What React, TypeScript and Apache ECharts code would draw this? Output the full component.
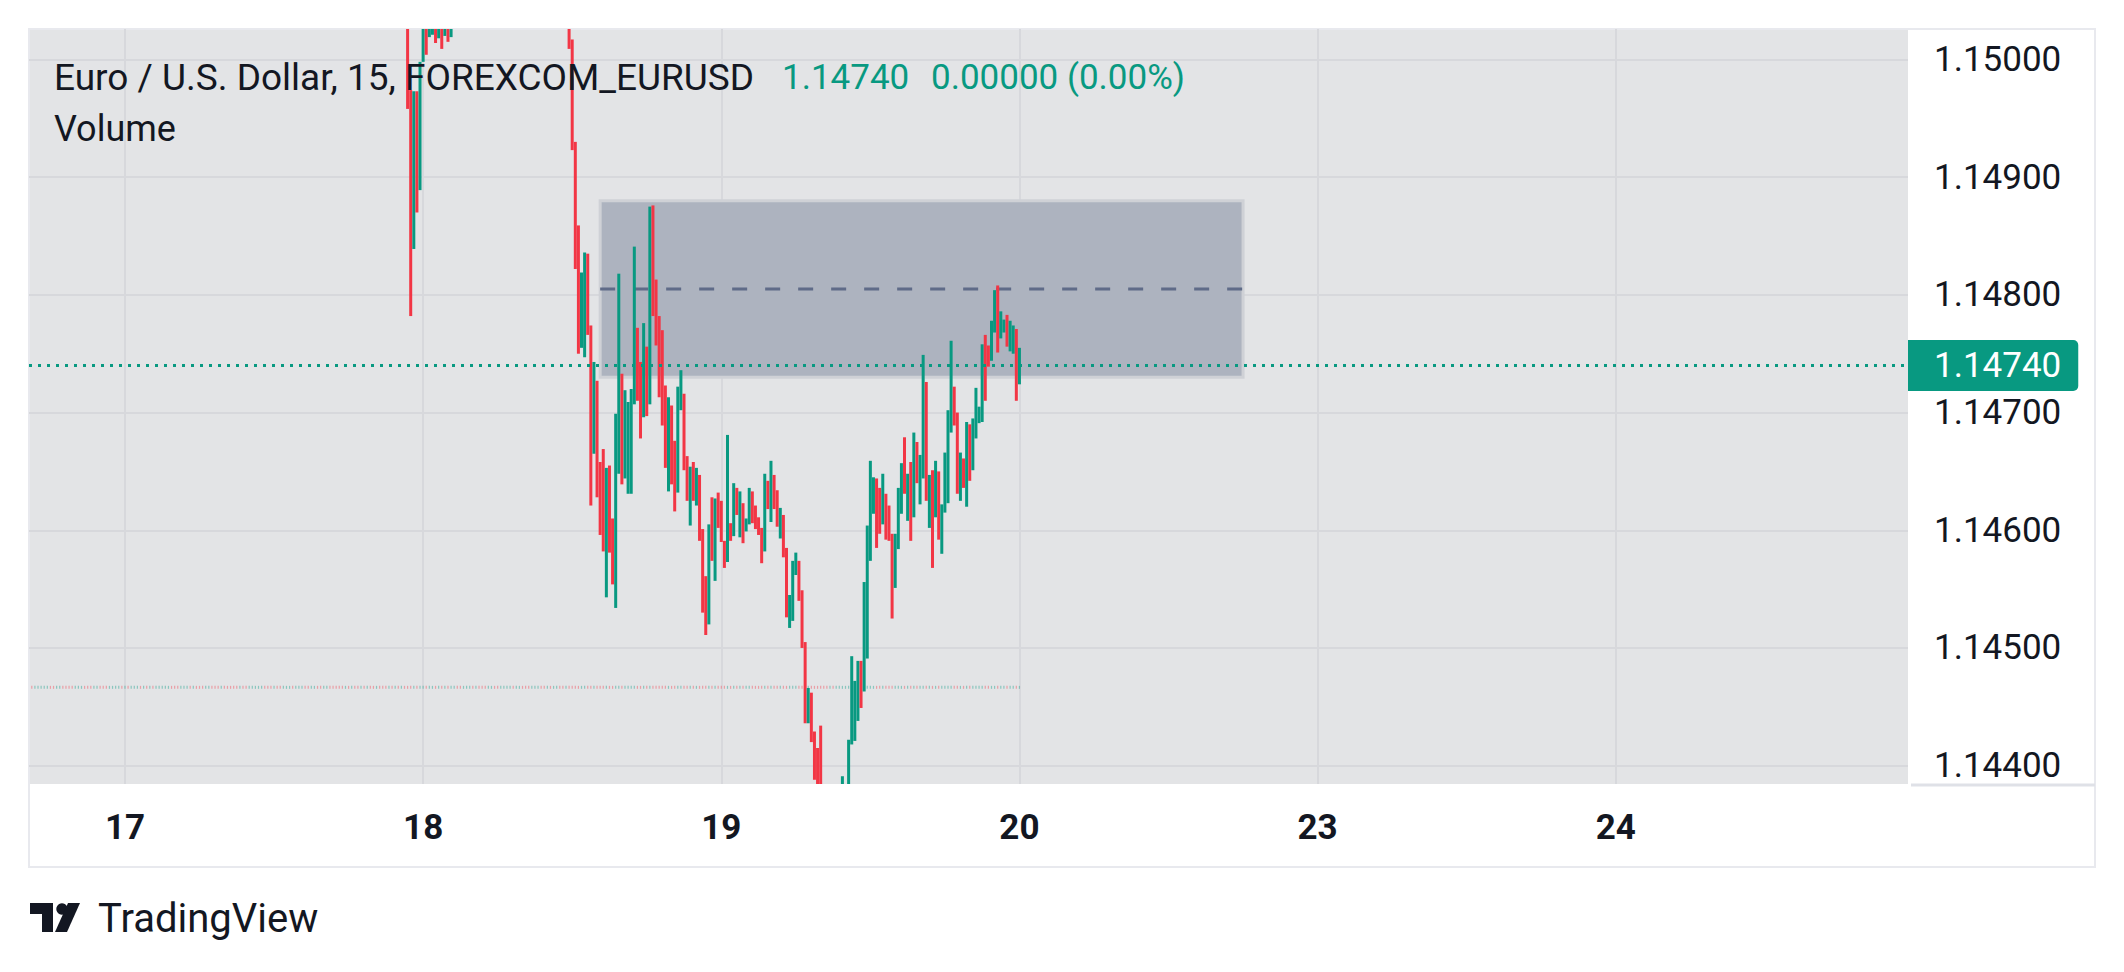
import React, { useEffect, useRef } from "react";
import * as echarts from "echarts";

// ---- axis data ----
// x = index of the 15-minute bar, counted from 17 00:00 (96 bars a day, weekend skipped)
const dayLabels = ["17", "18", "19", "20", "23", "24"];
const dayStartSlots = [0, 96, 192, 288, 384, 480];
const priceTicks = [1.144, 1.145, 1.146, 1.147, 1.148, 1.149, 1.15];

// ---- candles: slots 91 .. 288 (null = bar outside the visible price range) ----
const firstSlot = 91;
const barDirs =
  "dduduuduudududu" +
  "....................................." +
  "dddduuddud" + "ddudduuduu" + "uuddududdd" + "ddudduuddu" + "dudddududd" +
  "dudududuud" + "dddududdud" + "duuudddudd" + "dd" +
  "......" + "u" + "." +
  "uuuuduuuud" + "duddduuudu" + "duduududud" + "uuuuddudud" + "uuuudduudu" + "uduudu";

const N = null;
const highs: (number | null)[] = [
  1.1506, 1.14974, 1.14973, 1.14973, 1.14998, 1.15045, 1.15055, 1.1507, 1.15062, 1.15068,
  1.15058, 1.15066, 1.15072, 1.15064, 1.15075,
  N, N, N, N, N, N, N, N, N, N, N, N, N, N, N, N, N, N, N, N, N, N, N, N, N, N, N, N, N, N, N, N, N, N, N, N, N,
  1.1504, 1.15017, 1.1493, 1.14859, 1.14819, 1.14836, 1.14835, 1.14774, 1.14743, 1.14727,
  1.14658, 1.14669, 1.14653, 1.14655, 1.1461, 1.14699, 1.14818, 1.14733, 1.14719, 1.14709,
  1.1472, 1.14841, 1.14772, 1.14743, 1.14776, 1.14756, 1.14875, 1.14876, 1.14813, 1.14782,
  1.1477, 1.14723, 1.14713, 1.14706, 1.14676, 1.14722, 1.14736, 1.14716, 1.14663, 1.14654,
  1.14658, 1.14653, 1.14647, 1.14601, 1.14561, 1.14605, 1.14628, 1.14627, 1.14632, 1.14625,
  1.14591, 1.14681, 1.14606, 1.1464, 1.14636, 1.14633, 1.14623, 1.1461, 1.14636, 1.14633,
  1.14621, 1.14611, 1.14602, 1.14648, 1.14642, 1.14659, 1.14647, 1.14634, 1.14619, 1.14613,
  1.14585, 1.14545, 1.14574, 1.14581, 1.14574, 1.14549, 1.14505, 1.14466, 1.14462, 1.14429,
  1.14415, 1.14434, N, N, N, N, N, N, 1.14391, N,
  1.14422, 1.14493, 1.14472, 1.14489, 1.14489, 1.14556, 1.14604, 1.14659, 1.14645, 1.14644,
  1.14636, 1.14648, 1.14631, 1.14621, 1.14597, 1.14597, 1.14636, 1.14657, 1.14679, 1.14648,
  1.14658, 1.14683, 1.14675, 1.14664, 1.14749, 1.14726, 1.14647, 1.14651, 1.14659, 1.1465,
  1.14622, 1.14666, 1.14702, 1.14761, 1.14722, 1.147, 1.14666, 1.14661, 1.14692, 1.1469,
  1.14695, 1.14721, 1.14705, 1.14758, 1.14766, 1.14757, 1.14778, 1.14804, 1.14808, 1.14786,
  1.14779, 1.14783, 1.14778, 1.14774, 1.14771, 1.14755,
];
const lows: (number | null)[] = [
  1.14958, 1.14782, 1.14839, 1.1487, 1.14889, 1.14998, 1.15004, 1.15019, 1.15021, 1.15014,
  1.15018, 1.15009, 1.1502, 1.15015, 1.15019,
  N, N, N, N, N, N, N, N, N, N, N, N, N, N, N, N, N, N, N, N, N, N, N, N, N, N, N, N, N, N, N, N, N, N, N, N, N,
  1.15009, 1.14923, 1.14822, 1.1475, 1.14755, 1.14747, 1.14766, 1.14621, 1.14665, 1.14628,
  1.14596, 1.14582, 1.14543, 1.14581, 1.14554, 1.14534, 1.14648, 1.14639, 1.14644, 1.14631,
  1.14631, 1.14707, 1.1471, 1.14678, 1.14696, 1.14697, 1.14707, 1.14782, 1.14757, 1.14713,
  1.14689, 1.14653, 1.14633, 1.14639, 1.14616, 1.14632, 1.14702, 1.14651, 1.14625, 1.14604,
  1.14625, 1.14621, 1.14591, 1.1453, 1.14511, 1.1452, 1.14574, 1.14557, 1.14602, 1.1459,
  1.14568, 1.14573, 1.14591, 1.14595, 1.14613, 1.14594, 1.14589, 1.14599, 1.14605, 1.14606,
  1.14601, 1.14596, 1.14572, 1.14582, 1.14618, 1.14607, 1.14618, 1.14603, 1.14593, 1.14577,
  1.14526, 1.14517, 1.14523, 1.14562, 1.1454, 1.145, 1.14436, 1.14436, 1.1442, 1.14388,
  1.1437, 1.1436, N, N, N, N, N, N, 1.14355, N,
  1.1437, 1.14418, 1.14421, 1.14438, 1.14449, 1.14463, 1.14491, 1.14574, 1.14614, 1.14585,
  1.14597, 1.14605, 1.14592, 1.14591, 1.14525, 1.14551, 1.14584, 1.14614, 1.14631, 1.14608,
  1.14591, 1.14611, 1.1464, 1.14622, 1.14644, 1.14625, 1.14602, 1.14568, 1.14611, 1.14592,
  1.1458, 1.14615, 1.14623, 1.14683, 1.14689, 1.14631, 1.14625, 1.14636, 1.1462, 1.14642,
  1.14651, 1.14678, 1.14691, 1.14692, 1.1471, 1.14739, 1.14744, 1.14768, 1.14751, 1.14763,
  1.14768, 1.14756, 1.14752, 1.1475, 1.1471, 1.14724,
];

// volume bars (colour only) for bars whose price is outside the view, slots -30 .. 288
const volumeFirstSlot = -30;
const volumeLastSlot = 288;
const hiddenVolumeDirs =
  "duuuuuddu" + "udddduuudd" + "duuddduuuu" + "duduuududu" + "duuuuudddu" + "uududdduud" +
  "ddudddddud" + "duuuuudddu" + "dduuuduuud" + "duudduu" + "dddddududd" + "ududdudddu" + "dudud" +
  "udduuududd" + "duudduuuud" + "uuddduuudd" + "uduuddu" +
  "dduduuu";

const lastPrice = 1.1474;
const changeText = "0.00000 (0.00%)";
const symbolTitle = "Euro / U.S. Dollar, 15, FOREXCOM_EURUSD";
const indicatorName = "Volume";

// position tool (rectangle with dashed middle line)
const boxSlots = [153, 360];
const boxPrices = [1.1488, 1.1473];
const boxMid = 1.14805;

const UP = "#089981";
const DOWN = "#f23645";
const TEXT = "#131722";
const FONT = "Roboto, 'Noto Sans', sans-serif";

export default function App() {
  const ref = useRef<HTMLDivElement>(null);

  useEffect(() => {
    const el = ref.current;
    if (!el) return;
    const chart = echarts.init(el, null, { renderer: "svg" });

    const candleData: number[][] = [];
    for (let k = 0; k < highs.length; k++) {
      const h = highs[k];
      const l = lows[k];
      if (h == null || l == null) continue;
      const up = barDirs[k] === "u";
      candleData.push([firstSlot + k, up ? l : h, up ? h : l, l, h]);
    }

    const volData: any[] = [];
    let hk = 0;
    for (let s = volumeFirstSlot; s <= volumeLastSlot; s++) {
      const k = s - firstSlot;
      let dir: string;
      if (k >= 0 && k < highs.length && highs[k] != null) dir = barDirs[k];
      else dir = hiddenVolumeDirs[hk++] || "u";
      volData.push({
        value: [s, 0],
        itemStyle: { color: dir === "u" ? "rgba(8,153,129,0.5)" : "rgba(242,54,69,0.5)" },
      });
    }

    const renderCandle = (params: any, api: any) => {
      const x = api.value(0);
      const o = api.value(1);
      const c = api.value(2);
      const lo = api.value(3);
      const hi = api.value(4);
      const pTop = api.coord([x, hi]);
      const pBot = api.coord([x, lo]);
      const w = 3;
      const cs = params.coordSys;
      const rect = echarts.graphic.clipRectByRect(
        { x: pTop[0] - w / 2, y: pTop[1], width: w, height: Math.max(1, pBot[1] - pTop[1]) },
        { x: cs.x, y: cs.y, width: cs.width, height: cs.height }
      );
      if (!rect) return null;
      return { type: "rect", shape: rect, style: { fill: c >= o ? UP : DOWN } };
    };

    const option: any = {
      animation: false,
      textStyle: { fontFamily: FONT },
      grid: {
        left: 29,
        top: 29,
        width: 1879,
        height: 755,
        show: true,
        backgroundColor: "#e3e4e6",
        borderWidth: 0,
      },
      xAxis: {
        type: "value",
        min: -30.9,
        max: 574.1,
        axisLine: { show: false },
        axisTick: { show: false, customValues: dayStartSlots },
        axisLabel: {
          customValues: dayStartSlots,
          formatter: (v: number) => dayLabels[dayStartSlots.indexOf(Math.round(v))] ?? "",
          fontSize: 35,
          fontWeight: "bold",
          color: TEXT,
          fontFamily: FONT,
          margin: 26,
        },
        splitLine: { show: true, lineStyle: { color: "#d7d8dc", width: 2 } },
      },
      yAxis: [
        {
          type: "value",
          position: "right",
          min: 1.143844,
          max: 1.150259,
          axisLine: { show: false },
          axisTick: { show: false, customValues: priceTicks },
          axisLabel: {
            customValues: priceTicks,
            formatter: (v: number) => v.toFixed(5),
            fontSize: 35,
            color: TEXT,
            fontFamily: FONT,
            margin: 26,
          },
          splitLine: { show: true, lineStyle: { color: "#d7d8dc", width: 2 } },
        },
        { type: "value", min: -0.1468, max: 1, show: false },
      ],
      series: [
        {
          type: "line",
          data: [
            [boxSlots[0], boxMid],
            [boxSlots[1], boxMid],
          ],
          symbol: "none",
          silent: true,
          lineStyle: { color: "#5f6b88", width: 3, type: [15, 18] },
          markArea: {
            silent: true,
            itemStyle: { color: "#adb3bf", borderColor: "#cfd1d6", borderWidth: 3 },
            data: [
              [
                { xAxis: boxSlots[0], yAxis: boxPrices[0] },
                { xAxis: boxSlots[1], yAxis: boxPrices[1] },
              ],
            ],
          },
          markLine: {
            silent: true,
            precision: 5,
            symbol: ["none", "none"],
            lineStyle: { color: UP, width: 3, type: [3, 6] },
            label: {
              show: true,
              position: "end",
              distance: 0,
              formatter: lastPrice.toFixed(5),
              color: "#ffffff",
              fontSize: 35,
              fontFamily: FONT,
              backgroundColor: UP,
              padding: [8, 17, 8, 26],
              borderRadius: [0, 5, 5, 0],
            },
            data: [{ yAxis: lastPrice }],
          },
          z: 1,
        },
        {
          type: "scatter",
          yAxisIndex: 1,
          data: volData,
          symbol: "rect",
          symbolSize: [1.2, 3],
          silent: true,
          z: 1,
        },
        {
          type: "custom",
          name: "EURUSD",
          data: candleData,
          encode: { x: 0, y: [1, 2, 3, 4] },
          renderItem: renderCandle,
          silent: true,
          z: 3,
        },
      ],
      graphic: [
        {
          type: "rect",
          shape: { x: 29, y: 29, width: 2066, height: 838 },
          style: { fill: "none", stroke: "#e8e9ee", lineWidth: 2 },
          silent: true,
          z: 0,
        },
        {
          type: "line",
          shape: { x1: 1911, y1: 785, x2: 2095, y2: 785 },
          style: { stroke: "#dfe1e7", lineWidth: 3 },
          silent: true,
          z: 0,
        },
        {
          type: "text",
          x: 54,
          y: 77,
          style: { text: symbolTitle, fontSize: 37, fontFamily: FONT, fill: TEXT, align: "left", verticalAlign: "middle" },
          z: 100,
        },
        {
          type: "text",
          x: 782,
          y: 77,
          style: { text: lastPrice.toFixed(5), fontSize: 35, fontFamily: FONT, fill: UP, align: "left", verticalAlign: "middle" },
          z: 100,
        },
        {
          type: "text",
          x: 931,
          y: 77,
          style: { text: changeText, fontSize: 35, fontFamily: FONT, fill: UP, align: "left", verticalAlign: "middle" },
          z: 100,
        },
        {
          type: "text",
          x: 54,
          y: 129,
          style: { text: indicatorName, fontSize: 36, fontFamily: FONT, fill: TEXT, align: "left", verticalAlign: "middle" },
          z: 100,
        },
        // TradingView logo
        { type: "rect", shape: { x: 30, y: 903, width: 23, height: 11 }, style: { fill: TEXT }, z: 100 },
        { type: "rect", shape: { x: 42, y: 903, width: 11, height: 29 }, style: { fill: TEXT }, z: 100 },
        { type: "circle", shape: { cx: 62, cy: 909, r: 5.7 }, style: { fill: TEXT }, z: 100 },
        {
          type: "polygon",
          shape: { points: [[68, 903], [80, 903], [67, 932], [55, 932]] },
          style: { fill: TEXT },
          z: 100,
        },
        {
          type: "text",
          x: 98,
          y: 918,
          style: { text: "TradingView", fontSize: 40, fontFamily: FONT, fill: TEXT, align: "left", verticalAlign: "middle" },
          z: 100,
        },
      ],
    };

    chart.setOption(option);
    return () => chart.dispose();
  }, []);

  return (
    <div
      ref={ref}
      style={{ position: "fixed", left: 0, top: 0, width: 2124, height: 972, background: "#ffffff" }}
    />
  );
}
